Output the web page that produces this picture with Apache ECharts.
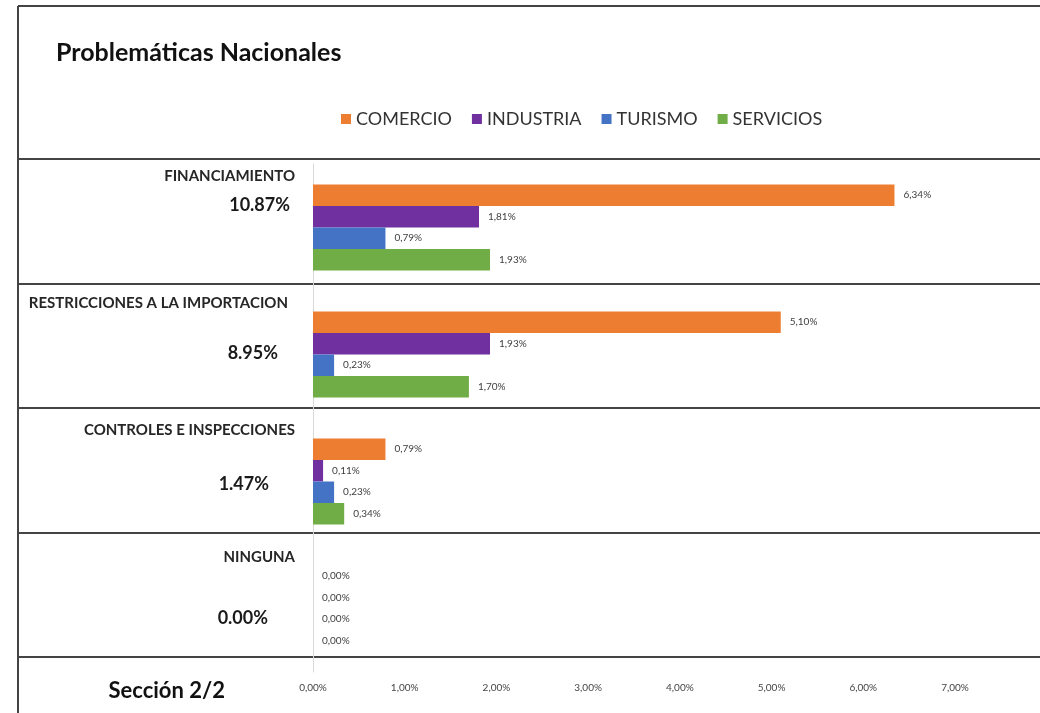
<!DOCTYPE html>
<html>
<head>
<meta charset="utf-8">
<script src="https://cdn.jsdelivr.net/npm/echarts@6/dist/echarts.min.js"></script>
<style>
  html, body { margin: 0; padding: 0; background: #fff; }
  #chart { width: 1040px; height: 713px; }
</style>
</head>
<body>
<div id="chart"></div>
<script>
// categorias y valores (%)
const categorias = ['FINANCIAMIENTO', 'RESTRICCIONES A LA IMPORTACION', 'CONTROLES E INSPECCIONES', 'NINGUNA'];
const totales = ['10.87%', '8.95%', '1.47%', '0.00%'];
const comercio = [6.34, 5.10, 0.79, 0.00];
const industria = [1.81, 1.93, 0.11, 0.00];
const turismo = [0.79, 0.23, 0.23, 0.00];
const servicios = [1.93, 1.70, 0.34, 0.00];
const seriesNames = ['COMERCIO', 'INDUSTRIA', 'TURISMO', 'SERVICIOS'];
const colores = ['#ED7D31', '#7030A0', '#4472C4', '#70AD47'];

const FONT = 'Lato, "Open Sans", sans-serif';
const fmt = v => v.toFixed(2).replace('.', ',') + '%';

// posiciones de los textos de la izquierda (no son datos)
const sepY = [159, 284, 408, 533, 657];
const nameY = [176, 303, 430, 557];
const nameRight = [295, 288, 295, 295];
const totalY = [205, 353, 484, 618];
const totalRight = [290, 278, 269, 268];

const chart = echarts.init(document.getElementById('chart'));

const graphics = [];
// marco y separadores
graphics.push({ type: 'line', shape: { x1: 18, y1: 6, x2: 1040, y2: 6 }, style: { stroke: '#444', lineWidth: 2 } });
graphics.push({ type: 'line', shape: { x1: 18, y1: 6, x2: 18, y2: 713 }, style: { stroke: '#444', lineWidth: 2 } });
sepY.forEach(y => graphics.push({ type: 'line', shape: { x1: 18, y1: y, x2: 1040, y2: y }, style: { stroke: '#444', lineWidth: 2 } }));

graphics.push({
  type: 'text', x: 56, y: 53,
  style: { text: 'Problemáticas Nacionales', font: 'bold 25px ' + FONT, fill: '#111', verticalAlign: 'middle' }
});
graphics.push({
  type: 'text', x: 225, y: 691,
  style: { text: 'Sección 2/2', font: 'bold 22px ' + FONT, fill: '#111', align: 'right', verticalAlign: 'middle' }
});
categorias.forEach((c, i) => {
  graphics.push({
    type: 'text', x: nameRight[i], y: nameY[i],
    style: { text: c, font: 'bold 15px ' + FONT, fill: '#262626', align: 'right', verticalAlign: 'middle' }
  });
  graphics.push({
    type: 'text', x: totalRight[i], y: totalY[i],
    style: { text: totales[i], font: 'bold 18px ' + FONT, fill: '#1a1a1a', align: 'right', verticalAlign: 'middle' }
  });
});

const data = [comercio, industria, turismo, servicios];

chart.setOption({
  backgroundColor: '#fff',
  animation: false,
  legend: {
    data: seriesNames,
    left: 336, top: 105,
    icon: 'rect', itemWidth: 10, itemHeight: 10, itemGap: 20,
    textStyle: { fontFamily: FONT, fontSize: 18, color: '#333' }
  },
  grid: { left: 313, right: 85, top: 164, bottom: 41 },
  xAxis: {
    type: 'value', min: 0, max: 7, interval: 1,
    axisLine: { show: false }, axisTick: { show: false }, splitLine: { show: false },
    axisLabel: { formatter: v => fmt(v), fontFamily: FONT, fontSize: 10, color: '#444', margin: 11 }
  },
  yAxis: {
    type: 'category', data: categorias, inverse: true,
    axisLine: { show: true, lineStyle: { color: '#d9d9d9', width: 1 } },
    axisTick: { show: false }, axisLabel: { show: false }
  },
  series: data.map((d, i) => ({
    name: seriesNames[i],
    type: 'bar',
    data: d,
    barWidth: 21.5,
    barGap: '0%',
    itemStyle: { color: colores[i] },
    label: {
      show: true, position: 'right', distance: 9,
      formatter: p => fmt(p.value),
      fontFamily: FONT, fontSize: 10, color: '#404040'
    }
  })),
  graphic: graphics
});
</script>
</body>
</html>
